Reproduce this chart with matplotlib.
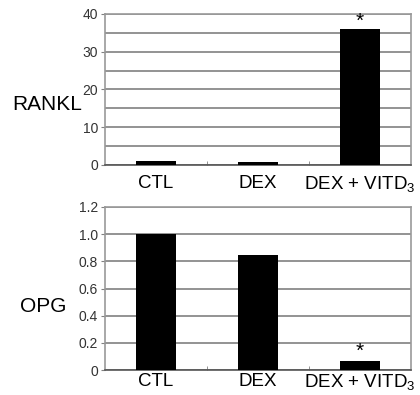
import numpy as np
import matplotlib
matplotlib.use("Agg")
import matplotlib.pyplot as plt

plt.rcParams['font.family'] = ['Liberation Sans', 'DejaVu Sans']
plt.rcParams['mathtext.fontset'] = 'custom'
plt.rcParams['mathtext.rm'] = 'Liberation Sans'

categories = ["CTL", "DEX", r"DEX + VITD$_\mathregular{3}$"]
rankl = [1.1, 0.9, 36.0]
opg = [1.0, 0.85, 0.07]
rankl_sig = [False, False, True]
opg_sig = [False, False, True]

grid_col = "#808080"

fig = plt.figure(figsize=(4.2, 3.95), dpi=100)
ax1 = fig.add_axes([0.25, 0.5823, 0.7286, 0.3823])
ax2 = fig.add_axes([0.25, 0.063, 0.7286, 0.413])


def style_panel(ax, vals, sig, ymax, major, minor, fmt, label, star_off, pad):
    x = np.arange(len(categories))
    ax.bar(x, vals, width=0.4, color="black", zorder=3)
    for xi, v, s in zip(x, vals, sig):
        if s:
            ax.text(xi, v + star_off, "*", ha="center", va="bottom", fontsize=15, zorder=4)
    ax.set_xlim(-0.5, 2.5)
    ax.set_ylim(0, ymax)
    ax.set_yticks(np.arange(0, ymax + 1e-9, major))
    ax.set_yticklabels([fmt(t) for t in np.arange(0, ymax + 1e-9, major)], fontsize=10, color="#333333")
    ax.set_yticks(np.arange(0, ymax + 1e-9, minor), minor=True)
    ax.yaxis.grid(True, which="both", color=grid_col, linewidth=1.2, zorder=0)
    ax.set_xticks(x)
    ax.set_xticklabels(categories, fontsize=13.5)
    ax.set_xticks([0.5, 1.5], minor=True)
    ax.tick_params(axis="x", which="major", length=0, pad=pad)
    ax.tick_params(axis="x", which="minor", direction="in", length=3, color=grid_col)
    ax.tick_params(axis="y", which="major", length=3, color=grid_col, pad=2)
    ax.tick_params(axis="y", which="minor", length=0)
    for sp in ax.spines.values():
        sp.set_color("#999999")
        sp.set_linewidth(1.2)
    ax.spines["bottom"].set_color("#555555")
    ax.set_ylabel(label, fontsize=15, rotation=0, ha="right", va="center")


style_panel(ax1, rankl, rankl_sig, 40, 10, 5, lambda t: f"{t:.0f}", "RANKL", -0.5, 7)
style_panel(ax2, opg, opg_sig, 1.2, 0.2, 0.2, lambda t: "0" if t == 0 else f"{t:.1f}", "OPG", 0.0, 2)
ax1.yaxis.set_label_coords(-0.075, 0.40)
ax2.yaxis.set_label_coords(-0.127, 0.39)

fig.savefig("out.png", dpi=100)
